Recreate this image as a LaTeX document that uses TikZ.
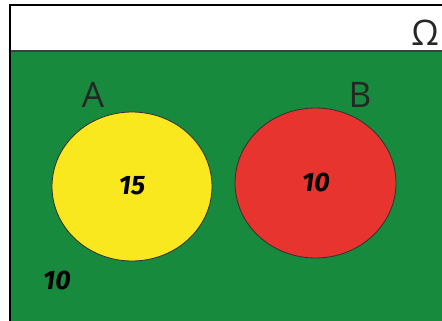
\documentclass[tikz,border=0pt]{standalone}
\usepackage{fontspec}
\setmainfont{Open Sans}
\newfontfamily\numfont{Fira Sans}
\definecolor{omegagreen}{RGB}{24,138,62}
\definecolor{setyellow}{RGB}{250,232,30}
\definecolor{setred}{RGB}{232,52,46}
\begin{document}
\begin{tikzpicture}[x=0.025cm, y=-0.025cm]
\tikzset{
  setlabel/.style={font=\fontsize{25}{25}\selectfont, text=black!85, inner sep=0pt},
  count/.style={font=\numfont\fontsize{19}{19}\selectfont\bfseries\itshape, inner sep=0pt},
  setshape/.style={draw=black!80, line width=0.6pt}
}
\useasboundingbox (0,0) rectangle (442,321);
% universe
\fill[white] (10,5) rectangle (442,51);
\fill[omegagreen] (10,51) rectangle (442,321);
\draw[black!75, line width=1pt] (10,51) -- (442,51);
\draw[line width=1pt] (442,5) -- (10,5) -- (10,321);
\node[setlabel] (omega) at (425,33) {Ω};
% sets
\draw[setshape, fill=setyellow] (132,186.5) ellipse [x radius=80, y radius=74.5];
\draw[setshape, fill=setred] (315.5,183) ellipse [x radius=80.5, y radius=75];
\node[setlabel] (labA) at (93,95) {A};
\node[setlabel] (labB) at (360,95) {B};
% counts
\node[count] (inA) at (132,186) {15};
\node[count] (inB) at (316,183) {10};
\node[count] (outside) at (57,281) {10};
\end{tikzpicture}
\end{document}
